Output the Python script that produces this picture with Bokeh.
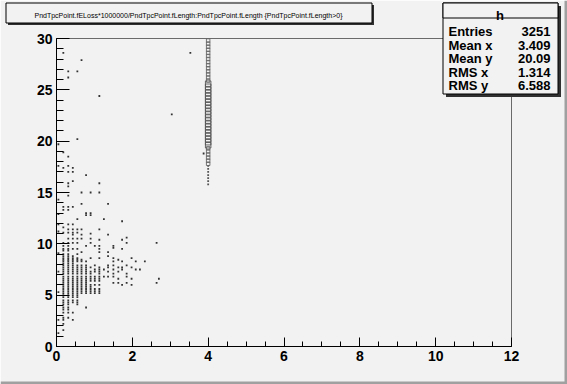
from bokeh.plotting import figure
from bokeh.layouts import column
from bokeh.models import Range1d, SingleIntervalTicker, Label
from bokeh.embed import file_html
from bokeh.resources import INLINE

# ---------------------------------------------------------------------------
# Data: PndTpcPoint.fELoss*1e6/fLength (y) versus PndTpcPoint.fLength (x)
# ---------------------------------------------------------------------------
# Scattered hits, grouped by row: row_y[i] holds the y value, row_x[i] the x values
row_y = [28.6, 27.9, 26.8, 26.2, 24.4, 22.6, 20.2, 19.7, 18.9, 18.8, 18.5, 17.6,
         17.4, 17.0, 16.7, 16.1, 15.9, 15.6, 15.0, 14.7, 14.3, 13.9, 13.6, 13.3,
         13.0, 12.9, 12.8, 12.4, 12.2, 11.9, 11.6, 11.4, 11.2, 11.1, 11.0, 10.9,
         10.6, 10.5, 10.4, 10.1, 9.8, 9.6, 9.5, 9.35, 9.2, 9.1, 9.0, 8.8, 8.6,
         8.45, 8.3, 8.1, 7.9, 7.7, 7.5, 7.3, 7.1, 6.8, 6.6, 6.4, 6.2, 6.0, 5.8,
         5.6, 5.4, 5.3, 5.2, 5.0, 4.8, 4.5, 4.3, 4.1, 3.8, 3.6, 3.3, 2.8, 2.6,
         2.2, 1.6, 1.3]
row_x = [
    [0.18, 3.53], [0.66], [0.31, 0.55], [0.31], [1.13], [3.04], [0.55], [0.05],
    [0.18], [3.88], [0.31], [0.05, 0.31],
    [0.18, 0.43], [0.31, 0.43], [0.78], [0.43], [0.31, 1.13], [0.31],
    [0.66, 0.90, 1.13], [0.31], [0.05], [0.66, 1.36], [0.18, 0.31, 0.43], [0.18, 0.31],
    [0.78, 0.90], [0.05], [0.78, 0.90], [0.55, 1.25], [1.73], [0.05, 0.31, 0.43], [0.18],
    [0.31, 0.43, 0.55, 0.66, 1.13], [0.05], [0.18, 0.31, 0.43, 0.55], [0.90],
    [0.43, 0.66, 1.36],
    [1.85], [0.31, 0.43, 0.55, 0.66, 0.90], [1.13, 1.73],
    [0.18, 0.31, 0.43, 0.55, 0.90, 1.85, 2.64],
    [0.18, 0.31, 0.78, 1.01, 1.13, 1.50], [1.50],
    [0.18, 0.31, 0.43, 0.55, 1.13, 1.73], [0.18, 0.31],
    [0.66, 1.13, 1.36], [0.05], [0.18, 0.31, 0.55], [0.18, 0.31, 0.43, 1.36],
    [0.18, 0.31, 0.43, 0.55, 0.90, 1.13, 1.50, 1.98],
    [0.18, 0.31, 0.43, 0.55, 0.66, 1.63],
    [0.18, 0.31, 0.43, 0.55, 0.66, 0.78, 1.50, 1.73, 2.09, 2.33],
    [0.18, 0.31, 0.43],
    [0.18, 0.31, 0.43, 0.55, 0.66, 0.78, 1.01, 1.36, 1.50, 1.85],
    [0.18, 0.31, 0.43, 0.55, 0.66, 0.78, 0.90, 1.13, 1.36, 1.63, 1.73, 1.98],
    [0.18, 0.31, 0.43, 0.55, 0.66, 0.78, 1.01, 1.13, 1.25, 1.50, 1.73, 2.09, 2.20],
    [0.05, 0.18, 0.31, 0.43, 0.55, 0.66, 0.78, 0.90, 1.01, 1.13, 1.36, 1.63],
    [0.18, 0.31, 0.43, 0.55, 0.66, 0.78, 0.90, 1.13, 1.50, 1.85],
    [0.18, 0.31, 0.43, 0.55, 0.66, 0.78, 0.90, 1.01, 1.13, 1.25, 1.36, 1.50, 1.85],
    [0.18, 0.31, 0.43, 0.55, 0.66, 0.78, 0.90, 1.01, 1.13, 1.63, 1.98, 2.70],
    [0.18, 0.31, 0.43, 0.55, 0.66, 0.78, 0.90, 1.01, 1.13],
    [0.18, 0.31, 0.43, 0.55, 0.66, 0.78, 1.50, 1.63, 1.85, 2.64],
    [0.18, 0.31, 0.43, 0.55, 0.66, 0.78, 0.90, 1.01, 1.13, 1.73, 1.98],
    [0.18, 0.31, 0.43, 0.55, 0.66, 0.78, 0.90],
    [0.18, 0.31, 0.43, 0.55, 0.66, 0.78, 0.90, 1.01, 1.13],
    [0.18, 0.31, 0.43, 0.55, 0.66, 0.78, 0.90, 1.01, 1.13],
    [0.05],
    [0.18, 0.31, 0.43, 0.55, 0.66, 0.78, 0.90, 1.01, 1.13],
    [0.18, 0.31, 0.43, 0.55], [0.18, 0.31, 0.43, 0.55], [0.18, 0.31, 0.43, 0.55],
    [0.18, 0.31, 0.43, 0.55], [0.18, 0.31, 0.55], [0.18, 0.31, 0.78], [0.18, 0.31],
    [0.18, 0.31, 0.43], [0.18, 0.31], [0.05, 0.18, 0.43], [0.18], [0.18], [0.05],
]

# Narrow band of hits at fLength = 4 (tracks crossing a full pad row)
band_x = 4.0
band_top_y = [25.9, 26.2, 26.5, 26.8, 27.1, 27.4, 27.7, 28.0, 28.3, 28.6, 28.9,
              29.2, 29.5, 29.8]
band_mid_y = [19.6, 19.9, 20.2, 20.5, 20.8, 21.1, 21.4, 21.7, 22.0, 22.3, 22.6,
              22.9, 23.2, 23.5, 23.8, 24.1, 24.4, 24.7, 25.0, 25.3, 25.6]
band_low_y = [17.8, 18.1, 18.4, 18.7, 19.0, 19.3]
band_tail_y = [15.8, 16.1, 16.4, 16.7, 17.0, 17.3, 17.6]

# Statistics box contents
stat_names = ["Entries", "Mean x", "Mean y", "RMS x", "RMS y"]
stat_values = ["3251", "3.409", "20.09", "1.314", "6.588"]
hist_name = "h"
title_text = ("PndTpcPoint.fELoss*1000000/PndTpcPoint.fLength:"
              "PndTpcPoint.fLength {PndTpcPoint.fLength>0}")

hit_x = [x for xs in row_x for x in xs]
hit_y = [y for y, xs in zip(row_y, row_x) for _ in xs]

# ---------------------------------------------------------------------------
# Main scatter figure
# ---------------------------------------------------------------------------
W, H = 567, 384
BG = "#f2f2f2"
FONT = "Liberation Sans"
FL, FT, FW, FH = 56, 38, 455, 308
FB = FT + FH

p = figure(frame_width=FW, frame_height=FH,
           min_border_left=FL, min_border_right=W - FL - FW,
           min_border_top=FT, min_border_bottom=H - FB,
           x_range=Range1d(0, 12), y_range=Range1d(0, 30),
           output_backend="svg", toolbar_location=None)
p.frame_align = False
p.title.visible = False
p.background_fill_color = BG
p.border_fill_color = BG
p.outline_line_color = "#6a6a6a"
p.outline_line_width = 1
p.grid.visible = False

p.xaxis.ticker = SingleIntervalTicker(interval=2, num_minor_ticks=4)
p.yaxis.ticker = SingleIntervalTicker(interval=5, num_minor_ticks=5)
for ax, major, minor in ((p.xaxis, 9, 5), (p.yaxis, 13, 7)):
    ax.axis_line_color = "black"
    ax.major_tick_line_color = "black"
    ax.minor_tick_line_color = "black"
    ax.major_tick_in = major
    ax.major_tick_out = 0
    ax.minor_tick_in = minor
    ax.minor_tick_out = 0
    ax.major_label_text_font = FONT
    ax.major_label_text_font_style = "bold"
    ax.major_label_text_font_size = "14px"
    ax.major_label_text_color = "black"
    ax.major_label_standoff = 4

p.scatter(hit_x, hit_y, marker="square", size=1.8,
          fill_color="#333333", line_color=None)
p.scatter([band_x] * len(band_tail_y), band_tail_y, marker="square", size=1.8,
          fill_color="#555555", line_color=None)
p.scatter([band_x] * len(band_low_y), band_low_y, marker="square", size=3.5,
          fill_color=None, line_color="#666666", line_width=0.9)
p.scatter([band_x] * len(band_top_y), band_top_y, marker="square", size=3.5,
          fill_color=None, line_color="#666666", line_width=0.9)
p.scatter([band_x] * len(band_mid_y), band_mid_y, marker="square", size=5.5,
          fill_color=None, line_color="#555555", line_width=0.9)

# ---------------------------------------------------------------------------
# Canvas overlay: title pave, statistics pave and canvas bevel, drawn in
# canvas pixel coordinates (y grows downwards) on a transparent figure
# ---------------------------------------------------------------------------
ov = figure(frame_width=W, frame_height=H, min_border=0,
            min_border_left=0, min_border_right=0,
            min_border_top=0, min_border_bottom=0,
            x_range=Range1d(0, W), y_range=Range1d(H, 0),
            x_axis_type=None, y_axis_type=None,
            output_backend="svg", toolbar_location=None,
            styles={"position": "absolute", "left": "0px", "top": "0px",
                    "z-index": "1"})
ov.frame_align = False
ov.title.visible = False
ov.background_fill_alpha = 0
ov.border_fill_alpha = 0
ov.outline_line_color = None
ov.grid.visible = False


def pave(l, t, r, b, shadow=3):
    ov.quad(left=l + shadow, right=r + shadow, top=t + shadow, bottom=b + shadow,
            fill_color="#303030", line_color=None)
    ov.quad(left=l, right=r, top=t, bottom=b,
            fill_color=BG, line_color="black", line_width=1)


def label(x, y, text, size, align="left", bold=True):
    ov.add_layout(Label(x=x, y=y, text=text, text_font=FONT, text_font_size=size,
                        text_font_style="bold" if bold else "normal",
                        text_align=align, text_baseline="alphabetic",
                        text_color="black"))


# canvas bevel (right and bottom edges)
ov.quad(left=[564, 0], right=[W, W], top=[0, 381], bottom=[H, H],
        fill_color="#a0a0a0", line_color=None)

# title pave
pave(5.5, 2.5, 371.5, 22.5, shadow=2)
label(188, 15, title_text, "7px", "center", bold=False)

# statistics pave
pave(442.5, 2.5, 557.5, 93.5)
ov.quad(left=442.5, right=557.5, top=2.5, bottom=17.5,
        fill_color=BG, line_color="black", line_width=1)
label(499.5, 15, hist_name, "13px", "center")
for i, (name, val) in enumerate(zip(stat_names, stat_values)):
    base = 31 + i * 13.5
    label(448, base, name, "13px", "left")
    label(550, base, val, "13px", "right")

page = column(p, ov)
open("out.html", "w").write(file_html(page, INLINE))
